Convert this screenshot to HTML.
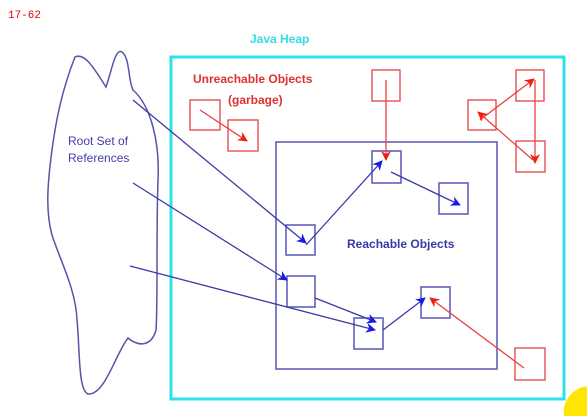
<!DOCTYPE html>
<html style="overflow:hidden;width:587px;height:416px"><head><style>
html,body{margin:0;padding:0}
body{background:#fff;width:587px;height:416px;overflow:hidden;position:relative;font-family:"Liberation Sans",Arial,sans-serif}
.t{position:absolute;white-space:nowrap}
svg{display:block}
</style></head><body>
<div class="t" style="left:8px;top:10px;font:11px 'Liberation Mono',monospace;color:#e00">17-62</div>
<svg width="587" height="416" style="position:absolute;left:0;top:0">
<defs>
<marker id="b" markerWidth="10" markerHeight="10" refX="9" refY="5" orient="auto" markerUnits="userSpaceOnUse"><path d="M0,0 L10,5 L0,10 L3,5z" fill="#1a1ae6"/></marker>
<marker id="r" markerWidth="10" markerHeight="10" refX="9" refY="5" orient="auto" markerUnits="userSpaceOnUse"><path d="M0,0 L10,5 L0,10 L3,5z" fill="#f02010"/></marker>
</defs>
<path d="M564,416 A26,26 0 0 1 587,386.3 L587,416 Z" fill="#ffe600"/>
<rect x="171" y="57" width="393" height="342" fill="none" stroke="#2ee0ea" stroke-width="3"/>
<path d="M75,57 C85,52 95,70 106,87 C112,70 115,48 122,52 C130,58 128,80 133,90 C150,105 160,140 158,180 C156,240 158,300 156,330 C152,345 140,348 128,338 C115,355 105,395 88,394 C78,390 80,350 77,320 C76,290 60,260 52,235 C45,210 48,180 52,150 C56,120 62,90 75,57Z" fill="none" stroke="#5555aa" stroke-width="1.5"/>
<g fill="none" stroke="#5555bb" stroke-width="1.5">
<rect x="276" y="142" width="221" height="227"/>
<rect x="286" y="225" width="29" height="30"/>
<rect x="372" y="151" width="29" height="32"/>
<rect x="439" y="183" width="29" height="31"/>
<rect x="287" y="276" width="28" height="31"/>
<rect x="354" y="318" width="29" height="31"/>
<rect x="421" y="287" width="29" height="31"/>
</g>
<g fill="none" stroke="#e84040" stroke-width="1.3">
<rect x="190" y="100" width="30" height="30"/>
<rect x="228" y="120" width="30" height="31"/>
<rect x="372" y="70" width="28" height="31"/>
<rect x="516" y="70" width="28" height="31"/>
<rect x="468" y="100" width="28" height="30"/>
<rect x="516" y="141" width="29" height="31"/>
<rect x="515" y="348" width="30" height="32"/>
</g>
<g stroke="#3a3aa8" stroke-width="1.3" marker-end="url(#b)">
<line x1="133" y1="100" x2="306" y2="243"/>
<line x1="133" y1="183" x2="287" y2="280"/>
<line x1="130" y1="266" x2="375" y2="330"/>
<line x1="315" y1="298" x2="376" y2="322"/>
<line x1="383" y1="330" x2="425" y2="298"/>
<line x1="306" y1="245" x2="382" y2="161"/>
<line x1="391" y1="172" x2="460" y2="205"/>
</g>
<g stroke="#e84040" stroke-width="1.3" marker-end="url(#r)">
<line x1="200" y1="110" x2="247" y2="141"/>
<line x1="386" y1="80" x2="386" y2="160"/>
<line x1="524" y1="368" x2="430" y2="298"/>
<line x1="480" y1="120" x2="534" y2="79"/>
<line x1="535" y1="80" x2="535" y2="163"/>
<line x1="533" y1="160" x2="478" y2="112"/>
</g>
</svg>
<div class="t" style="left:250px;top:32px;font-size:12px;font-weight:bold;color:#30dce8">Java Heap</div>
<div class="t" style="left:193px;top:72px;font-size:12px;font-weight:bold;color:#e03030">Unreachable Objects</div>
<div class="t" style="left:228px;top:93px;font-size:12px;font-weight:bold;color:#e03030">(garbage)</div>
<div class="t" style="left:68px;top:133px;font-size:12px;color:#4040a8;line-height:17px">Root Set of<br>References</div>
<div class="t" style="left:347px;top:237px;font-size:12px;font-weight:bold;color:#3838a8">Reachable Objects</div>
</body></html>
